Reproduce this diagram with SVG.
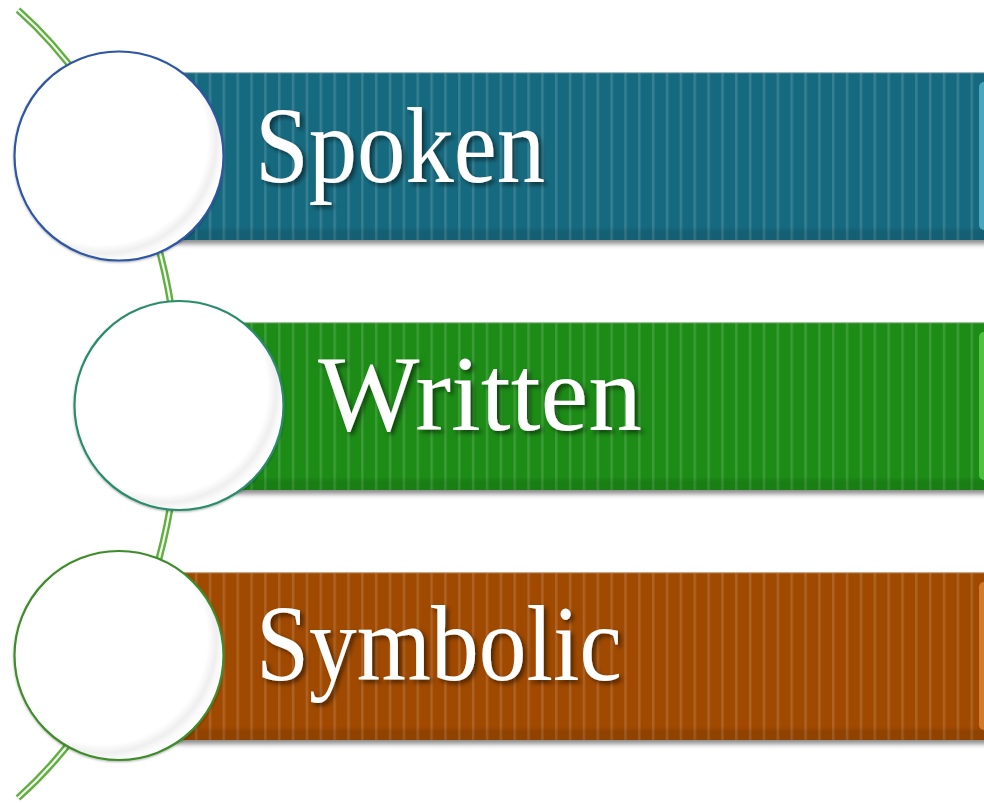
<svg xmlns="http://www.w3.org/2000/svg" width="984" height="803" viewBox="0 0 984 803">
  <defs>
    <style>
      .lbl { font-family: "Liberation Serif", "Times New Roman", serif; font-size: 108px; fill: #ffffff; filter: url(#tshadow); }
      .ring { filter: url(#cshadow); }
    </style>
    <filter id="tshadow" x="-10%" y="-20%" width="130%" height="150%">
      <feDropShadow dx="3" dy="3" stdDeviation="2.2" flood-color="#000" flood-opacity="0.5"/>
    </filter>
    <filter id="bshadow" x="-5%" y="-10%" width="110%" height="130%">
      <feDropShadow dx="0" dy="4" stdDeviation="2.5" flood-color="#000" flood-opacity="0.45"/>
    </filter>
    <filter id="cshadow" x="-10%" y="-10%" width="120%" height="120%">
      <feDropShadow dx="0" dy="1" stdDeviation="1.2" flood-color="#000" flood-opacity="0.3"/>
    </filter>
    <radialGradient id="plate" cx="0.42" cy="0.42" r="0.6">
      <stop offset="0" stop-color="#ffffff"/>
      <stop offset="0.84" stop-color="#ffffff"/>
      <stop offset="0.91" stop-color="#efefef"/>
      <stop offset="0.96" stop-color="#fbfbfb"/>
      <stop offset="1" stop-color="#ffffff"/>
    </radialGradient>
    <pattern id="stripes" patternUnits="userSpaceOnUse" x="0" y="0" width="13.85" height="20">
      <rect x="1" y="0" width="2.5" height="20" fill="#ffffff" fill-opacity="0.14"/>
    </pattern>
    <linearGradient id="bevel" x1="0" y1="0" x2="0" y2="1">
      <stop offset="0" stop-color="#000" stop-opacity="0"/>
      <stop offset="0.92" stop-color="#000" stop-opacity="0"/>
      <stop offset="0.95" stop-color="#000" stop-opacity="0.1"/>
      <stop offset="1" stop-color="#000" stop-opacity="0.1"/>
    </linearGradient>
  </defs>

  <g id="connectors">
    <path d="M18,10 A375,480 0 0 1 18,798" fill="none" stroke="#62ae42" stroke-width="7"/>
    <path d="M18,10 A375,480 0 0 1 18,798" fill="none" stroke="#f2f9ee" stroke-width="2.2"/>
  </g>

  <g id="node-spoken">
    <g filter="url(#bshadow)">
      <rect x="176" y="72" width="820" height="168" fill="#176a80"/>
    </g>
    <rect x="176" y="72" width="820" height="168" fill="url(#stripes)"/>
    <rect x="176" y="72" width="820" height="168" fill="url(#bevel)"/>
    <rect x="176" y="72" width="820" height="1.2" fill="#9fb6bd"/>
    <rect x="979" y="82" width="12" height="148" rx="5" fill="#48a6bd"/>
    <circle class="ring" cx="119" cy="156" r="104.5" fill="url(#plate)" stroke="#2f57a3" stroke-width="2.2"/>
    <text class="lbl" x="255" y="182" textLength="290" lengthAdjust="spacingAndGlyphs">Spoken</text>
  </g>

  <g id="node-written">
    <g filter="url(#bshadow)">
      <rect x="236" y="322" width="760" height="168" fill="#1e8c12"/>
    </g>
    <rect x="236" y="322" width="760" height="168" fill="url(#stripes)"/>
    <rect x="236" y="322" width="760" height="168" fill="url(#bevel)"/>
    <rect x="236" y="322" width="760" height="1.2" fill="#a3c09e"/>
    <rect x="979" y="332" width="12" height="148" rx="5" fill="#4fc23c"/>
    <circle class="ring" cx="179" cy="405.5" r="104.5" fill="url(#plate)" stroke="#2a8c6c" stroke-width="2.2"/>
    <text class="lbl" x="318" y="430" textLength="324" lengthAdjust="spacingAndGlyphs">Written</text>
  </g>

  <g id="node-symbolic">
    <g filter="url(#bshadow)">
      <rect x="176" y="572" width="820" height="168" fill="#a04a06"/>
    </g>
    <rect x="176" y="572" width="820" height="168" fill="url(#stripes)"/>
    <rect x="176" y="572" width="820" height="168" fill="url(#bevel)"/>
    <rect x="176" y="572" width="820" height="1.2" fill="#c7a88e"/>
    <rect x="979" y="582" width="12" height="148" rx="5" fill="#d27a2c"/>
    <circle class="ring" cx="119" cy="655.5" r="104.5" fill="url(#plate)" stroke="#3f8c2c" stroke-width="2.2"/>
    <text class="lbl" x="256" y="680" textLength="366" lengthAdjust="spacingAndGlyphs">Symbolic</text>
  </g>
</svg>
